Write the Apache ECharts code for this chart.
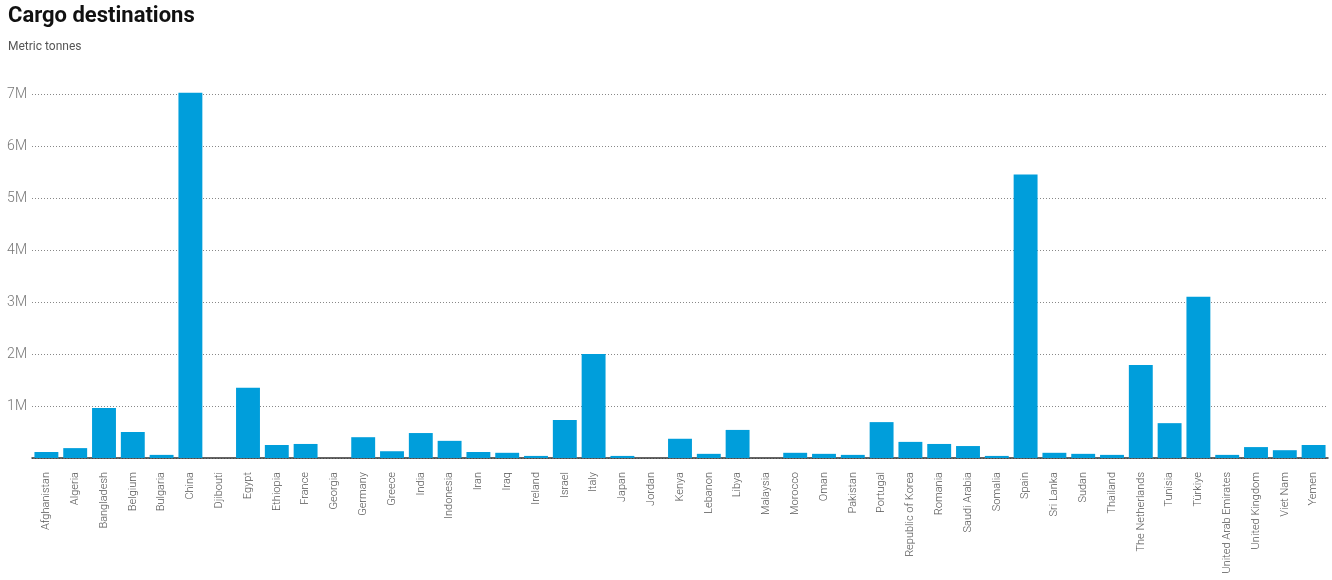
<!DOCTYPE html>
<html>
<head>
<meta charset="utf-8">
<title>Cargo destinations</title>
<script src="https://cdn.jsdelivr.net/npm/echarts@6/dist/echarts.min.js"></script>
<style>
    html, body { margin: 0; padding: 0; background: #fff; }
    #chart_cargo { width: 1332px; height: 580px; }
</style>
</head>
<body>
<div id="chart_cargo"></div>
<script>
var countries = ['Afghanistan', 'Algeria', 'Bangladesh', 'Belgium', 'Bulgaria', 'China', 'Djibouti', 'Egypt',
    'Ethiopia', 'France', 'Georgia', 'Germany', 'Greece', 'India', 'Indonesia', 'Iran', 'Iraq', 'Ireland',
    'Israel', 'Italy', 'Japan', 'Jordan', 'Kenya', 'Lebanon', 'Libya', 'Malaysia', 'Morocco', 'Oman',
    'Pakistan', 'Portugal', 'Republic of Korea', 'Romania', 'Saudi Arabia', 'Somalia', 'Spain', 'Sri Lanka',
    'Sudan', 'Thailand', 'The Netherlands', 'Tunisia', 'Türkiye', 'United Arab Emirates', 'United Kingdom',
    'Viet Nam', 'Yemen'];

// metric tonnes
var tonnes = [115000, 190000, 960000, 500000, 60000, 7025000, 0, 1350000,
    250000, 270000, 0, 400000, 130000, 480000, 330000, 115000, 100000, 40000,
    730000, 2000000, 40000, 0, 370000, 80000, 540000, 0, 100000, 80000,
    60000, 690000, 310000, 270000, 230000, 40000, 5450000, 100000,
    80000, 60000, 1790000, 670000, 3100000, 60000, 210000,
    150000, 250000];

var yTicks = [0, 1000000, 2000000, 3000000, 4000000, 5000000, 6000000, 7000000];

var myChart = echarts.init(document.getElementById('chart_cargo'));

var option = {
    animation: false,
    textStyle: { fontFamily: 'Roboto' },
    title: {
        text: 'Cargo destinations',
        subtext: 'Metric tonnes',
        left: 8,
        top: 5,
        padding: 0,
        itemGap: 14,
        textStyle: { fontFamily: 'Roboto', fontWeight: 'bold', fontSize: 22, color: '#111' },
        subtextStyle: { fontFamily: 'Roboto', fontSize: 12, color: '#555' }
    },
    grid: {
        left: 32,
        right: 4,
        top: 94,
        bottom: 122,
        containLabel: false
    },
    xAxis: {
        type: 'category',
        data: countries,
        axisLine: { lineStyle: { color: '#333', width: 1.5 } },
        axisTick: { alignWithLabel: true, length: 5, lineStyle: { color: '#333' } },
        axisLabel: {
            rotate: 90,
            interval: 0,
            margin: 14,
            fontSize: 11,
            fontWeight: 300,
            color: '#555'
        }
    },
    yAxis: {
        type: 'value',
        min: yTicks[0],
        max: yTicks[yTicks.length - 1],
        interval: yTicks[1] - yTicks[0],
        axisLine: { show: false },
        axisTick: { show: false },
        axisLabel: {
            showMinLabel: false,
            margin: 5,
            fontSize: 14,
            fontWeight: 300,
            color: '#777',
            formatter: function (v) {
                return (v / 1000000) + 'M';
            }
        },
        splitLine: { lineStyle: { color: '#888', type: [1, 2], width: 1 } }
    },
    series: [{
        name: 'Cargo',
        type: 'bar',
        data: tonnes,
        clip: false,
        barCategoryGap: '17%',
        itemStyle: { color: '#009edb' }
    }]
};

myChart.setOption(option);
</script>
</body>
</html>
